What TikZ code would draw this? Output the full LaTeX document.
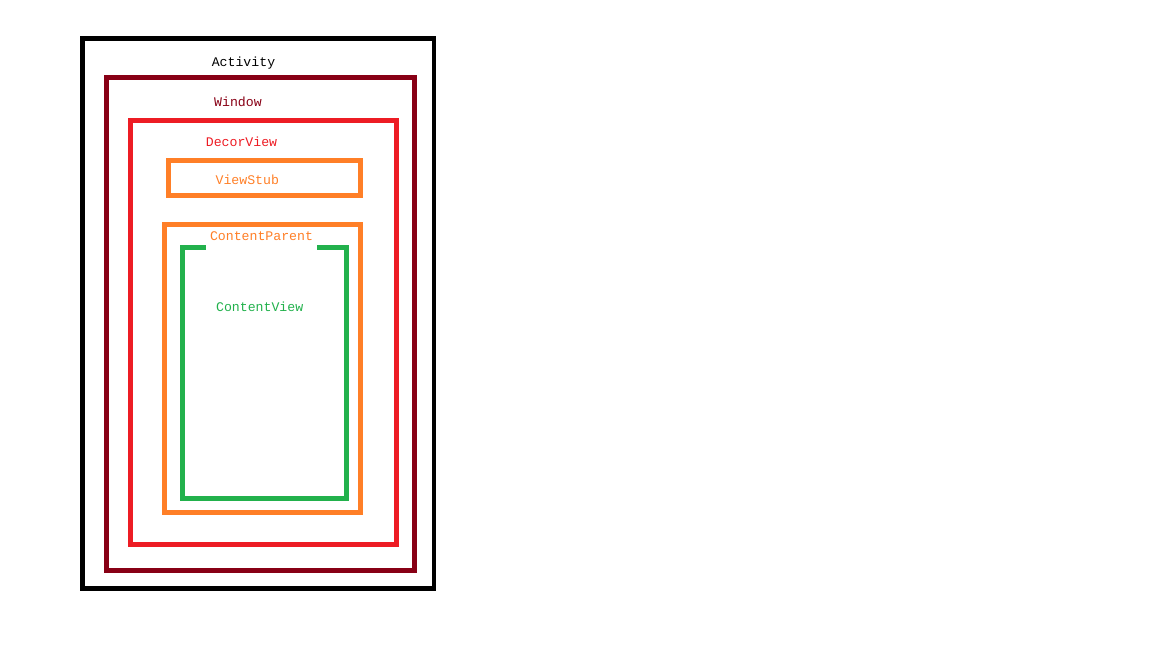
\documentclass[tikz,border=0pt]{standalone}
\usepackage{fontspec}
\newfontfamily\labelfont{Liberation Mono}
\usepackage{tikz}
\usepackage{xcolor}

\definecolor{actblack}{HTML}{000000}
\definecolor{windarkred}{HTML}{880015}
\definecolor{decorred}{HTML}{ED1C24}
\definecolor{stuborange}{HTML}{FF7F27}
\definecolor{viewgreen}{HTML}{22B14C}

\begin{document}
\begin{tikzpicture}[x=1pt, y=-1pt,
    frame/.style={line width=4.8pt},
    lbl/.style={font=\labelfont\fontsize{13.2}{15}\selectfont, inner sep=0pt}]
    \useasboundingbox (0, 0) rectangle (1152, 648);

    \draw[frame, actblack] (82.5, 38.5) rectangle (434, 588.5);
    \draw[frame, windarkred] (106.7, 77.5) rectangle (414.7, 570.3);
    \draw[frame, decorred] (130.7, 120.8) rectangle (396.7, 544.3);
    \draw[frame, stuborange] (168.5, 160.8) rectangle (360.2, 195.2);
    \draw[frame, viewgreen] (182.5, 247.5) rectangle (346.5, 498.2);

    \node[lbl, text=actblack] (act) at (243.5, 63.3) {Activity};
    \node[lbl, text=windarkred] (win) at (238, 101.7) {Window};
    \node[lbl, text=decorred] (decor) at (241.5, 141.7) {DecorView};
    \node[lbl, text=stuborange] (stub) at (247.3, 179.3) {ViewStub};
    \node[lbl, text=stuborange, fill=white, inner xsep=4pt, inner ysep=10.5pt] (parent) at (261.5, 236.3) {ContentParent};
    \node[lbl, text=viewgreen] (content) at (259.7, 306.7) {ContentView};

    \draw[frame, stuborange] (164.5, 224.8) rectangle (360.2, 512.3);
\end{tikzpicture}
\end{document}
